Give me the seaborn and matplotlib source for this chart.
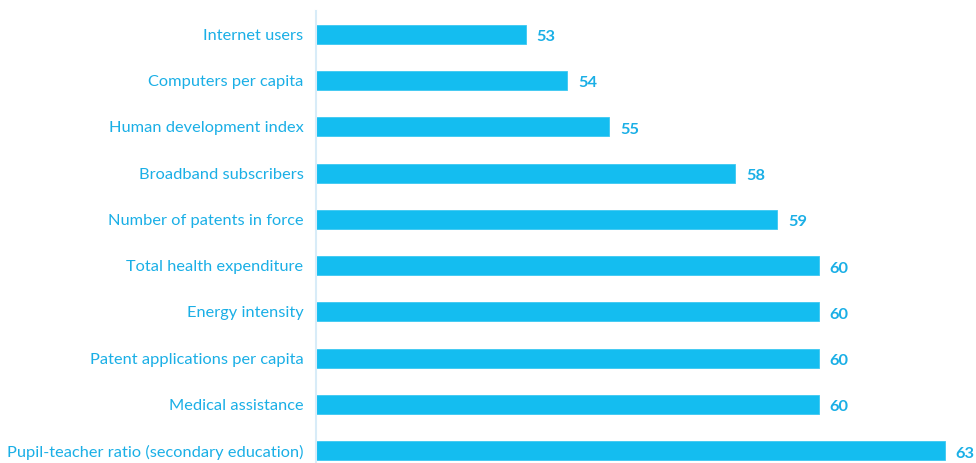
import matplotlib
matplotlib.use("Agg")
import matplotlib.pyplot as plt
import seaborn as sns
import pandas as pd

categories = ["Internet users", "Computers per capita", "Human development index",
              "Broadband subscribers", "Number of patents in force", "Total health expenditure",
              "Energy intensity", "Patent applications per capita", "Medical assistance",
              "Pupil-teacher ratio (secondary education)"]
values = [53, 54, 55, 58, 59, 60, 60, 60, 60, 63]

sns.set_style("white")
plt.rcParams['font.family'] = ['Lato', 'DejaVu Sans']

df = pd.DataFrame({"cat": categories, "val": values})
fig = plt.figure(figsize=(9.76, 4.63), dpi=100)
ax = fig.add_axes([316/976, -11/463, 660/976, 1.0])
sns.barplot(data=df, x="val", y="cat", orient="h", color="#14BDF0", width=0.41,
            saturation=1, ax=ax, edgecolor="#3CC8F2", linewidth=0.6)
ax.set_xlim(48, 63.75)
ax.set_ylim(9.5, -0.5)
for s in ["top", "right", "bottom"]:
    ax.spines[s].set_visible(False)
ax.spines["left"].set_color("#D8ECF8")
ax.spines["left"].set_linewidth(1.5)
ax.set_xticks([])
ax.set_xlabel("")
ax.set_ylabel("")
ax.tick_params(axis="y", length=0, pad=9, labelsize=11.8, labelcolor="#1AAFE6")
for lab in ax.get_yticklabels():
    lab.set_verticalalignment("center_baseline")
for i, v in enumerate(values):
    ax.text(v + 0.26, i + 0.03, str(v), va="center_baseline", ha="left", fontsize=11.8,
            color="#1AAFE6", fontweight="bold")
fig.savefig("out.png", dpi=100)
